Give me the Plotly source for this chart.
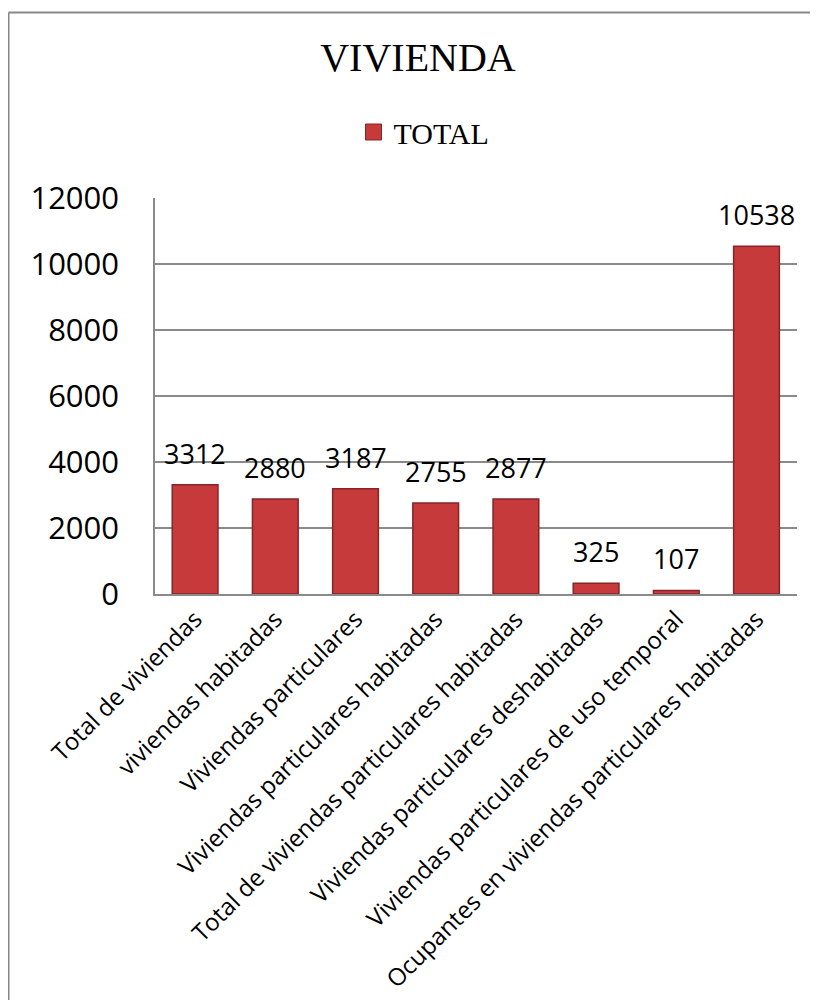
import plotly.graph_objects as go

categories = [
    "Total de viviendas",
    "viviendas habitadas",
    "Viviendas particulares",
    "Viviendas particulares habitadas",
    "Total de viviendas particulares habitadas",
    "Viviendas particulares deshabitadas",
    "Viviendas particulares de uso temporal",
    "Ocupantes en viviendas particulares habitadas",
]
values = [3312, 2880, 3187, 2755, 2877, 325, 107, 10538]
series_name = "TOTAL"
title_text = "VIVIENDA"

BAR = "#C63A3C"
EDGE = "#862426"
GRID = "#8a8a8a"

fig = go.Figure()
fig.add_trace(go.Bar(
    x=categories, y=values, name=series_name, showlegend=False,
    marker=dict(color=BAR, line=dict(color=EDGE, width=1.5)),
))
# legend entry
fig.add_trace(go.Scatter(
    x=[None], y=[None], mode="markers", name=series_name,
    marker=dict(symbol="square", size=16, color=BAR, line=dict(color=EDGE, width=1)),
))

for c, v in zip(categories, values):
    fig.add_annotation(x=c, y=v, text=str(v), showarrow=False,
                       yanchor="bottom", yshift=11,
                       font=dict(family="Open Sans", size=27, color="black"))

OFF = 8  # page body margin
W, H = 818 - OFF, 1000 - OFF
L, R, T, B = 155, 797, 198, 594  # page coords of plot area


def px(xp):
    return (xp - L) / (R - L)


def py(yp):
    return (B - yp) / (B - T)


# outer frame lines
fig.add_shape(type="line", xref="paper", yref="paper",
              x0=px(8.5), x1=px(840), y0=py(12.5), y1=py(12.5),
              line=dict(color="#888888", width=2))
fig.add_shape(type="line", xref="paper", yref="paper",
              x0=px(8.5), x1=px(8.5), y0=py(12.5), y1=py(1020),
              line=dict(color="#888888", width=2))

fig.update_layout(
    width=W, height=H,
    margin=dict(l=L - OFF, r=W - (R - OFF), t=T - OFF, b=H - (B - OFF), autoexpand=False),
    paper_bgcolor="white", plot_bgcolor="white",
    bargap=0.43,
    title=dict(text=title_text, x=(418 - OFF) / W, xref="container", xanchor="center",
               y=1 - (57 - OFF) / H, yref="container", yanchor="middle",
               font=dict(family="Liberation Serif", size=40, color="black")),
    legend=dict(orientation="h", x=px(424), xanchor="center", y=py(132), yanchor="middle",
                font=dict(family="Liberation Serif", size=30, color="black"),
                bgcolor="rgba(0,0,0,0)"),
    xaxis=dict(showline=True, linecolor=GRID, linewidth=1.5, tickangle=-45,
               tickfont=dict(family="Open Sans", size=24, color="black"),
               showgrid=False, ticks=""),
    yaxis=dict(range=[0, 12000], dtick=2000, tickformat="d", showline=True,
               linecolor=GRID, linewidth=1.5,
               gridcolor=GRID, gridwidth=1.5, zeroline=False, ticks="",
               ticklabelstandoff=28,
               tickfont=dict(family="Open Sans", size=31, color="black")),
)

fig.write_html("out.html")
